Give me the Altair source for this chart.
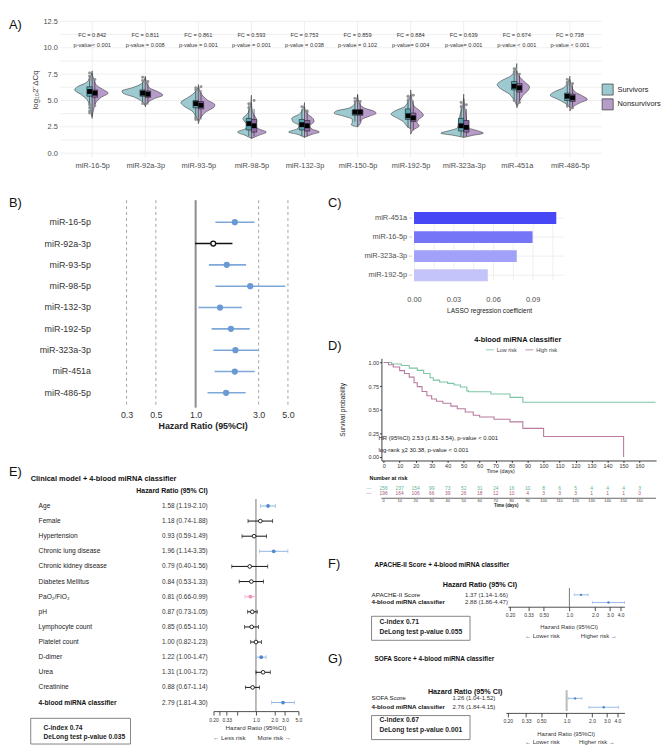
import altair as alt
import pandas as pd

FONT = "Liberation Sans"
S_FILL, N_FILL = "#9DCAD1", "#B79BC9"
S_BOX, N_BOX = "#56A3B2", "#8C69A5"
GREEN, PINK = "#7CC6A4", "#B97BA0"
B_LINE, B_PT = "#7FA8DA", "#6A99D3"
E_LINE, E_PT = "#8DB3E2", "#4F87CD"

# ---------------- Panel A data ----------------
A_MIRNAS = ["miR-16-5p", "miR-92a-3p", "miR-93-5p", "miR-98-5p", "miR-132-3p",
            "miR-150-5p", "miR-192-5p", "miR-323a-3p", "miR-451a", "miR-486-5p"]
A_FC = ["0.842", "0.811", "0.861", "0.593", "0.753", "0.859", "0.884", "0.639", "0.674", "0.738"]
A_PVAL = ["p-value< 0.001", "p-value = 0.008", "p-value = 0.001", "p-value = 0.001",
          "p-value = 0.038", "p-value = 0.102", "p-value= 0.004", "p-value= 0.001",
          "p-value < 0.001", "p-value < 0.001"]
A_GROUPS = ["Survivors", "Nonsurvivors"]
# violin outlines: (value, half-width in category units)
A_SURV_SHAPE = [
    [(3.3, 0.0), (3.8, 0.02), (4.5, 0.05), (5.1, 0.10), (5.6, 0.22), (6.0, 0.33), (6.3, 0.28), (6.7, 0.11), (7.2, 0.04), (7.8, 0.0)],
    [(4.5, 0.0), (4.9, 0.06), (5.3, 0.20), (5.7, 0.42), (5.9, 0.44), (6.2, 0.25), (6.6, 0.07), (7.2, 0.0)],
    [(3.0, 0.0), (3.5, 0.05), (4.0, 0.12), (4.5, 0.28), (4.8, 0.33), (5.2, 0.22), (5.7, 0.08), (6.3, 0.0)],
    [(1.4, 0.0), (1.7, 0.12), (2.0, 0.26), (2.3, 0.12), (2.6, 0.06), (3.0, 0.13), (3.3, 0.16), (3.7, 0.08), (4.3, 0.03), (5.5, 0.0)],
    [(1.5, 0.0), (1.8, 0.14), (2.0, 0.30), (2.3, 0.14), (2.6, 0.10), (3.0, 0.22), (3.3, 0.24), (3.7, 0.10), (4.2, 0.03), (4.8, 0.0)],
    [(2.5, 0.0), (2.7, 0.12), (2.9, 0.10), (3.2, 0.10), (3.5, 0.25), (3.8, 0.44), (4.0, 0.40), (4.3, 0.15), (4.8, 0.04), (5.6, 0.0)],
    [(2.3, 0.0), (2.6, 0.08), (3.0, 0.14), (3.4, 0.28), (3.7, 0.37), (4.0, 0.30), (4.4, 0.12), (5.0, 0.04), (5.6, 0.0)],
    [(1.5, 0.0), (1.7, 0.20), (1.9, 0.43), (2.1, 0.30), (2.4, 0.12), (2.8, 0.10), (3.2, 0.09), (3.8, 0.06), (4.5, 0.02), (5.6, 0.0)],
    [(4.5, 0.0), (5.0, 0.05), (5.6, 0.14), (6.1, 0.30), (6.5, 0.37), (6.9, 0.28), (7.3, 0.12), (7.8, 0.04), (8.5, 0.0)],
    [(4.3, 0.0), (4.7, 0.08), (5.1, 0.22), (5.5, 0.37), (5.8, 0.30), (6.2, 0.12), (6.7, 0.04), (7.3, 0.0)],
]
A_NONS_SHAPE = [
    [(3.5, 0.0), (4.2, 0.03), (4.8, 0.07), (5.3, 0.17), (5.7, 0.30), (6.0, 0.22), (6.4, 0.09), (7.0, 0.03), (7.6, 0.0)],
    [(4.4, 0.0), (4.9, 0.07), (5.2, 0.18), (5.5, 0.33), (5.8, 0.25), (6.2, 0.08), (6.8, 0.02), (7.3, 0.0)],
    [(2.8, 0.0), (3.4, 0.05), (3.9, 0.14), (4.4, 0.30), (4.6, 0.31), (5.0, 0.18), (5.6, 0.06), (6.5, 0.0)],
    [(1.4, 0.0), (1.7, 0.14), (2.0, 0.28), (2.3, 0.14), (2.6, 0.06), (3.0, 0.10), (3.3, 0.09), (3.8, 0.03), (4.8, 0.0)],
    [(1.5, 0.0), (1.8, 0.15), (2.0, 0.28), (2.3, 0.14), (2.6, 0.10), (3.0, 0.18), (3.3, 0.16), (3.7, 0.06), (4.4, 0.0)],
    [(2.5, 0.0), (2.8, 0.05), (3.2, 0.08), (3.5, 0.22), (3.8, 0.35), (4.0, 0.30), (4.3, 0.12), (4.8, 0.03), (5.5, 0.0)],
    [(1.8, 0.0), (2.2, 0.05), (2.6, 0.16), (2.9, 0.12), (3.2, 0.15), (3.6, 0.24), (4.0, 0.18), (4.5, 0.06), (5.2, 0.02), (6.0, 0.0)],
    [(1.5, 0.0), (1.7, 0.18), (1.9, 0.37), (2.1, 0.28), (2.4, 0.10), (2.8, 0.07), (3.3, 0.05), (4.0, 0.03), (5.2, 0.0)],
    [(4.3, 0.0), (4.9, 0.05), (5.5, 0.12), (6.0, 0.22), (6.3, 0.24), (6.7, 0.16), (7.2, 0.06), (7.8, 0.0)],
    [(4.0, 0.0), (4.4, 0.06), (4.8, 0.20), (5.1, 0.33), (5.4, 0.25), (5.8, 0.10), (6.4, 0.03), (7.0, 0.0)],
]
A_SURV_Q1 = [5.4, 5.4, 4.3, 2.2, 2.2, 3.6, 3.2, 2.1, 6.0, 5.0]
A_SURV_Q3 = [6.3, 6.0, 5.0, 3.3, 3.2, 4.1, 4.2, 3.3, 6.8, 5.7]
A_SURV_WLO = [4.6, 4.7, 3.3, 1.6, 1.6, 3.0, 2.4, 1.6, 5.0, 4.3]
A_SURV_WHI = [7.3, 6.8, 6.0, 4.7, 4.2, 5.0, 5.4, 4.6, 7.9, 6.8]
A_NONS_Q1 = [5.3, 5.3, 4.2, 2.0, 2.1, 3.6, 3.0, 2.0, 5.8, 4.9]
A_NONS_Q3 = [6.0, 5.9, 4.9, 3.2, 3.1, 4.1, 3.8, 3.1, 6.6, 5.6]
A_NONS_WLO = [4.5, 4.6, 3.2, 1.6, 1.6, 3.0, 2.2, 1.6, 4.8, 4.2]
A_NONS_WHI = [6.9, 6.7, 6.0, 4.2, 3.9, 4.8, 5.0, 4.2, 7.6, 6.6]
A_SURV_MEAN = [5.85, 5.7, 4.7, 2.8, 2.7, 3.9, 3.55, 2.6, 6.35, 5.4]
A_NONS_MEAN = [5.7, 5.6, 4.55, 2.6, 2.6, 3.9, 3.35, 2.45, 6.2, 5.25]
A_SURV_OUT = [[7.6, 7.3, 7.0, 4.6, 4.3, 4.0, 3.8], [7.2, 6.9, 4.7], [6.2, 6.0, 3.4, 3.2], [4.7, 4.3], [4.4],
              [5.2, 4.9], [5.4, 5.0], [4.8, 4.4], [8.0, 7.7, 7.5, 5.0], [7.0, 6.7, 6.5, 4.5]]
A_NONS_OUT = [[7.0, 4.5], [6.8], [6.3], [5.0], [4.0, 3.9], [4.9], [5.5], [4.6], [7.5, 4.8], [6.6, 4.3]]
A_Y_TICKS = [0.0, 1.25, 2.5, 3.75, 5.0, 6.25, 7.5, 8.75, 10.0, 11.25, 12.5]

# ---------------- Panel B data ----------------
B_NAMES = ["miR-16-5p", "miR-92a-3p", "miR-93-5p", "miR-98-5p", "miR-132-3p",
           "miR-192-5p", "miR-323a-3p", "miR-451a", "miR-486-5p"]
B_HR = [1.98, 1.36, 1.72, 2.59, 1.53, 1.85, 2.00, 1.98, 1.70]
B_LO = [1.41, 0.99, 1.26, 1.41, 1.05, 1.32, 1.36, 1.39, 1.23]
B_HI = [2.79, 1.90, 2.41, 4.78, 2.24, 2.57, 2.99, 2.80, 2.39]
B_SIG = [1, 0, 1, 1, 1, 1, 1, 1, 1]
B_REF = [0.3, 0.5, 3.0, 5.0]
B_TICKS = [0.3, 0.5, 1.0, 3.0, 5.0]

# ---------------- Panel C data ----------------
C_NAMES = ["miR-451a", "miR-16-5p", "miR-323a-3p", "miR-192-5p"]
C_COEF = [0.108, 0.090, 0.078, 0.056]
C_COLORS = ["#4747F5", "#7575F7", "#A1A1F9", "#C4C4FB"]
C_GRID = [0.0, 0.015, 0.03, 0.045, 0.06, 0.075, 0.09, 0.105]

# ---------------- Panel D data ----------------
LOW_T = [0, 5, 11, 16, 21, 25, 29, 31, 35, 40, 44, 48, 52, 53, 67, 79, 87, 170]
LOW_S = [1.0, 0.985, 0.969, 0.941, 0.917, 0.883, 0.838, 0.814, 0.793, 0.779, 0.762, 0.741, 0.70, 0.69, 0.666, 0.631, 0.579, 0.579]
HIGH_T = [0, 3, 6, 10, 13, 16, 19, 21, 24, 27, 30, 33, 37, 42, 46, 51, 56, 60, 69, 79, 87, 100, 150]
HIGH_S = [1.0, 0.976, 0.952, 0.914, 0.883, 0.845, 0.786, 0.745, 0.693, 0.648, 0.614, 0.59, 0.569, 0.538,
          0.51, 0.476, 0.441, 0.424, 0.40, 0.372, 0.303, 0.217, 0.0]
RISK_DAYS = [0, 10, 20, 30, 40, 50, 60, 70, 80, 90, 100, 110, 120, 130, 140, 150, 160]
RISK_LOW = [256, 237, 154, 99, 73, 52, 31, 24, 16, 10, 8, 6, 5, 4, 4, 4, 3]
RISK_HIGH = [196, 164, 106, 66, 39, 26, 18, 12, 10, 4, 3, 3, 3, 1, 1, 1, 0]
D_HR_TEXT = "HR (95%CI) 2.53 (1.81-3.54), p-value < 0.001"
D_LR_TEXT = "log-rank χ2 30.38, p-value < 0.001"

# ---------------- Panel E/F/G data ----------------
E_LABELS = ["Age", "Female", "Hypertension", "Chronic lung disease", "Chronic kidney disease",
            "Diabetes Mellitus", "PaO₂/FiO₂", "pH", "Lymphocyte count", "Platelet count",
            "D-dimer", "Urea", "Creatinine", "4-blood miRNA classifier"]
E_HR = [1.58, 1.18, 0.93, 1.96, 0.79, 0.84, 0.81, 0.87, 0.85, 1.00, 1.22, 1.31, 0.88, 2.79]
E_LO = [1.19, 0.74, 0.59, 1.14, 0.40, 0.53, 0.66, 0.73, 0.65, 0.82, 1.00, 1.00, 0.67, 1.81]
E_HI = [2.10, 1.88, 1.49, 3.35, 1.56, 1.33, 0.99, 1.05, 1.10, 1.23, 1.47, 1.72, 1.14, 4.30]
E_KIND = [1, 0, 0, 1, 0, 0, 2, 0, 0, 0, 1, 0, 0, 1]
F_LABELS = ["APACHE-II Score", "4-blood miRNA classifier"]
F_HR, F_LO, F_HI = [1.37, 2.88], [1.14, 1.86], [1.66, 4.47]
G_LABELS = ["SOFA Score", "4-blood miRNA classifier"]
G_HR, G_LO, G_HI = [1.26, 2.76], [1.04, 1.84], [1.52, 4.15]

KIND_LINE = {0: "#111111", 1: E_LINE, 2: "#F4A9C9"}
KIND_PT = {0: "#111111", 1: E_PT, 2: "#EE8FB7"}


def txt(s, x, y, size, weight="normal", align="left", color="#222222"):
    return alt.Chart(pd.DataFrame({"t": [s]})).mark_text(
        align=align, baseline="middle", fontSize=size, fontWeight=weight, color=color
    ).encode(x=alt.value(x), y=alt.value(y), text="t:N")


def frame(x1, x2, y1, y2, color="#666666", opacity=1.0):
    return alt.Chart(pd.DataFrame({"a": [0]})).mark_rect(
        fill="transparent", stroke=color, strokeWidth=0.8, opacity=opacity
    ).encode(x=alt.value(x1), x2=alt.value(x2), y=alt.value(y1), y2=alt.value(y2))


# =============== Panel A ===============
A_H = 137.7
xA = alt.Scale(domain=[0.4, 10.6], range=[0, 548], nice=False, zero=False)
yA = alt.Scale(domain=[-0.4, 12.5], range=[A_H, 0], nice=False, zero=False)
lab_arr = "[" + ",".join("'%s'" % m for m in A_MIRNAS) + "]"
axAx = alt.Axis(values=list(range(1, 11)), labelExpr=lab_arr + "[datum.value - 1]", title=None,
                ticks=False, domain=False, grid=False,
                labelFontSize=7.5, labelColor="#4D4D4D", labelPadding=10, labelFlush=False, labelOverlap=False)
axAy = alt.Axis(values=A_Y_TICKS, labelExpr="datum.value % 2.5 == 0 ? format(datum.value, '.1f') : ''",
                title="log₁₀2⁻ΔCq", titleFontSize=8, titleFontWeight="normal", titleColor="#333333",
                titlePadding=4, ticks=False, domain=False, grid=False,
                labelFontSize=7.5, labelColor="#4D4D4D", labelPadding=3)


def XA(f):
    return alt.X(f, type="quantitative", scale=xA, axis=axAx)


def YA(f):
    return alt.Y(f, type="quantitative", scale=yA, axis=axAy)


vrows = []
for i, shp in enumerate(A_SURV_SHAPE):
    for y, w in shp:
        vrows.append({"vid": "s%d" % i, "group": A_GROUPS[0], "val": y, "xe": i + 1 - w, "xc": i + 1})
for i, shp in enumerate(A_NONS_SHAPE):
    for y, w in shp:
        vrows.append({"vid": "n%d" % i, "group": A_GROUPS[1], "val": y, "xe": i + 1 + w, "xc": i + 1})
vdf = pd.DataFrame(vrows)

sbox = pd.DataFrame({"bx1": [i + 1 - 0.1 for i in range(10)], "bx2": [i + 1 for i in range(10)],
                     "bxc": [i + 1 - 0.05 for i in range(10)], "q1": A_SURV_Q1, "q3": A_SURV_Q3,
                     "wlo": A_SURV_WLO, "whi": A_SURV_WHI, "m": A_SURV_MEAN})
nbox = pd.DataFrame({"bx1": [i + 1 for i in range(10)], "bx2": [i + 1 + 0.1 for i in range(10)],
                     "bxc": [i + 1 + 0.05 for i in range(10)], "q1": A_NONS_Q1, "q3": A_NONS_Q3,
                     "wlo": A_NONS_WLO, "whi": A_NONS_WHI, "m": A_NONS_MEAN})
orows = []
for i, vals in enumerate(A_SURV_OUT):
    for v in vals:
        orows.append({"x": i + 1 - 0.05, "y": v})
for i, vals in enumerate(A_NONS_OUT):
    for v in vals:
        orows.append({"x": i + 1 + 0.05, "y": v})
odf = pd.DataFrame(orows)
adf = pd.DataFrame({"x": list(range(1, 11)), "fc": ["FC = " + f for f in A_FC], "pv": A_PVAL})

a_layers = [
    # invisible anchor at the figure's top-left corner
    frame(-52, -51, -8.3, -7.3, opacity=0),
    alt.Chart(pd.DataFrame({"g": A_Y_TICKS})).mark_rule(color="#EBEBEB", strokeWidth=0.8).encode(
        y=YA("g"), x=alt.value(0), x2=alt.value(548)),
    alt.Chart(pd.DataFrame({"c": list(range(1, 11))})).mark_rule(color="#EBEBEB", strokeWidth=0.8).encode(
        x=XA("c"), y=alt.value(0), y2=alt.value(A_H)),
    alt.Chart(vdf).mark_area(orient="horizontal", interpolate="monotone", stroke="#3D3D3D",
                             strokeWidth=0.6, opacity=1).encode(
        x=XA("xe"), x2="xc:Q", y=YA("val"), detail="vid:N",
        fill=alt.Fill("group:N", scale=alt.Scale(domain=A_GROUPS, range=[S_FILL, N_FILL]),
                      legend=alt.Legend(title=None, orient="none", legendX=548, legendY=63,
                                        symbolType="square", symbolSize=125, symbolStrokeColor="#333333",
                                        symbolStrokeWidth=0.7, symbolOpacity=1, labelFontSize=7.5,
                                        labelColor="#222222", rowPadding=1, labelOffset=4))),
]
for bdf_, col in ((sbox, S_BOX), (nbox, N_BOX)):
    a_layers.append(alt.Chart(bdf_).mark_rule(color="#222222", strokeWidth=0.6).encode(
        x=XA("bxc"), y=YA("wlo"), y2="whi:Q"))
    a_layers.append(alt.Chart(bdf_).mark_rect(fill=col, stroke="#222222", strokeWidth=0.6).encode(
        x=XA("bx1"), x2="bx2:Q", y=YA("q1"), y2="q3:Q"))
a_layers += [
    alt.Chart(odf).mark_circle(size=9, color="#8A8A8A", opacity=0.9).encode(x=XA("x"), y=YA("y")),
    alt.Chart(sbox).mark_square(size=24, color="#000000", opacity=1).encode(x=XA("bxc"), y=YA("m")),
    alt.Chart(nbox).mark_square(size=24, color="#000000", opacity=1).encode(x=XA("bxc"), y=YA("m")),
    alt.Chart(adf).mark_text(fontSize=5.7, color="#333333").encode(x=XA("x"), y=alt.value(14.2), text="fc:N"),
    alt.Chart(adf).mark_text(fontSize=5.7, color="#333333").encode(x=XA("x"), y=alt.value(24.0), text="pv:N"),
    txt("A)", -52, 3.7, 13, color="#111111"),
]
A = alt.layer(*a_layers).properties(width=241, height=A_H - 6)

# =============== Panel B ===============
xB = alt.Scale(type="log", domain=[0.22, 5.8], range=[49, 239], nice=False)
yB = alt.Scale(domain=[0, 8], range=[22.3, 195], nice=False, zero=False)
axB = alt.Axis(values=B_TICKS, format=".1f", title="Hazard Ratio (95%CI)", grid=False, domain=False,
               ticks=False, labelFontSize=9, labelColor="#333333", labelPadding=1, labelFlush=False,
               labelOverlap=False, titleFontSize=9, titleFontWeight="bold", titleColor="#222222",
               titlePadding=2, offset=118)


def XB(f):
    return alt.X(f, type="quantitative", scale=xB, axis=axB)


def YB(f):
    return alt.Y(f, type="quantitative", scale=yB, axis=None)


bdf = pd.DataFrame({"name": B_NAMES, "hr": B_HR, "lo": B_LO, "hi": B_HI, "sig": B_SIG, "row": list(range(9))})
bdf["lc"] = [B_LINE if s else "#111111" for s in B_SIG]
B = alt.layer(
    alt.Chart(pd.DataFrame({"v": B_REF})).mark_rule(strokeDash=[3, 3], color="#9A9A9A", strokeWidth=0.9).encode(
        x=XB("v"), y=alt.value(0), y2=alt.value(210)),
    alt.Chart(pd.DataFrame({"v": [1.0]})).mark_rule(color="#8C8C8C", strokeWidth=2).encode(
        x=XB("v"), y=alt.value(0), y2=alt.value(210)),
    alt.Chart(bdf).mark_rule(strokeWidth=1.6).encode(x=XB("lo"), x2="hi:Q", y=YB("row"),
                                                      color=alt.Color("lc:N", scale=None)),
    alt.Chart(bdf).transform_filter("datum.sig == 1").mark_circle(size=40, opacity=1, color=B_PT).encode(
        x=XB("hr"), y=YB("row")),
    alt.Chart(bdf).transform_filter("datum.sig == 0").mark_point(
        shape="circle", size=24, filled=True, fill="white", stroke="#111111", strokeWidth=1.4, opacity=1).encode(
        x=XB("hr"), y=YB("row")),
    alt.Chart(bdf).mark_text(align="right", baseline="middle", fontSize=9, color="#333333").encode(
        x=alt.value(31), y=YB("row"), text="name:N"),
    txt("B)", -52, 3, 13, color="#111111"),
).properties(width=239, height=94)

# =============== Panel C ===============
xC = alt.Scale(domain=[0, 0.114], range=[33, 185], nice=False, zero=False)
yC = alt.Scale(domain=[0, 3], range=[13, 81], nice=False, zero=False)
axC = alt.Axis(values=C_GRID, labelExpr="round(datum.value * 1000) % 30 == 0 ? format(datum.value, '.2f') : ''",
               grid=True, gridColor="#EBEBEB", gridWidth=0.8, ticks=False, domain=False,
               title="LASSO regression coefficient", titleFontSize=6.6, titleFontWeight="normal",
               titleColor="#222222", titlePadding=4, labelFontSize=7.5, labelColor="#4D4D4D",
               labelPadding=3, labelFlush=False, labelOverlap=False)


def XC(f):
    return alt.X(f, type="quantitative", scale=xC, axis=axC)


def YC(f):
    return alt.Y(f, type="quantitative", scale=yC, axis=None)


cdf = pd.DataFrame({"name": C_NAMES, "coef": C_COEF, "col": C_COLORS, "row": list(range(4)), "base": [0.0] * 4})
C = alt.layer(
    alt.Chart(cdf).mark_rule(color="#EBEBEB", strokeWidth=0.8).encode(
        y=YC("row"), x=alt.value(33), x2=alt.value(185)),
    alt.Chart(cdf).mark_bar(orient="horizontal", size=12).encode(
        x=XC("coef"), x2="base:Q", y=YC("row"), color=alt.Color("col:N", scale=None)),
    alt.Chart(cdf).mark_rule(color="#AAAAAA", strokeWidth=0.6).encode(
        y=YC("row"), x=alt.value(28), x2=alt.value(31)),
    alt.Chart(cdf).mark_text(align="right", baseline="middle", fontSize=7.5, color="#4D4D4D").encode(
        x=alt.value(26), y=YC("row"), text="name:N"),
    txt("C)", -54, 3, 13, color="#111111"),
).properties(width=185, height=94)

# =============== Panel D ===============
xD = alt.Scale(domain=[-1.4, 170.3], nice=False, zero=False)
yD = alt.Scale(domain=[-0.037, 1.045], range=[120.5, 17], nice=False, zero=False)
axDx = alt.Axis(values=RISK_DAYS, title=None, grid=False, domainColor="#111111", domainWidth=0.8,
                tickColor="#111111", tickSize=2, tickWidth=0.8, labelFontSize=5.5, labelColor="#333333",
                labelPadding=1, labelFlush=False, labelOverlap=False)
axDy = alt.Axis(values=[0, 0.25, 0.5, 0.75, 1.0], format=".2f", title="Survival probability", grid=False,
                domainColor="#111111", domainWidth=0.8, tickColor="#111111", tickSize=2, tickWidth=0.8,
                labelFontSize=5.5, labelColor="#333333", labelPadding=1, titleFontSize=6.5,
                titleFontWeight="normal", titleColor="#222222", titlePadding=23)


def XD(f):
    return alt.X(f, type="quantitative", scale=xD, axis=axDx)


def YD(f):
    return alt.Y(f, type="quantitative", scale=yD, axis=axDy)


km = pd.concat([
    pd.DataFrame({"t": LOW_T, "s": LOW_S, "grp": "Low risk"}),
    pd.DataFrame({"t": HIGH_T, "s": HIGH_S, "grp": "High risk"}),
])
risk = pd.DataFrame({"day": RISK_DAYS, "low": [str(v) for v in RISK_LOW], "high": [str(v) for v in RISK_HIGH],
                     "lab": [str(v) for v in RISK_DAYS]})
D = alt.layer(
    alt.Chart(km).mark_line(interpolate="step-after", strokeWidth=1.1).encode(
        x=XD("t"), y=YD("s"),
        color=alt.Color("grp:N", scale=alt.Scale(domain=["Low risk", "High risk"], range=[GREEN, PINK]),
                        legend=alt.Legend(title=None, orient="none", direction="horizontal", legendX=429.7,
                                          legendY=327.2, symbolType="stroke", symbolSize=64,
                                          symbolStrokeWidth=1.2, labelFontSize=5.5, labelColor="#444444",
                                          columnPadding=5, labelOffset=2, padding=0))),
    txt("4-blood miRNA classifier", 138, -1, 7.5, weight="bold", align="center", color="#111111"),
    txt(D_HR_TEXT, -3, 98, 6, color="#222222"),
    txt(D_LR_TEXT, -3, 110, 6, color="#222222"),
    txt("Time (days)", 120.7, 131, 5.5, align="center", color="#222222"),
    txt("Number at risk", -12, 138.7, 5.5, weight="bold", color="#111111"),
    txt("—", -15, 148.7, 5, color=GREEN),
    txt("—", -15, 153, 5, color=PINK),
    alt.Chart(risk).mark_text(fontSize=5, color="#5FB68E").encode(x=XD("day"), y=alt.value(148.7), text="low:N"),
    alt.Chart(risk).mark_text(fontSize=5, color="#A8608A").encode(x=XD("day"), y=alt.value(153), text="high:N"),
    alt.Chart(pd.DataFrame({"a": [0]})).mark_rule(color="#222222", strokeWidth=0.7).encode(
        x=alt.value(0), x2=alt.value(278), y=alt.value(158.7)),
    alt.Chart(risk).mark_text(fontSize=4, color="#333333").encode(x=XD("day"), y=alt.value(162), text="lab:N"),
    txt("Time (days)", 126.3, 166.3, 4.5, weight="bold", align="center", color="#222222"),
    txt("D)", -54, 5, 13, color="#111111"),
).properties(width=278, height=120.5)


# =============== forest helpers (E, F, G) ===============
def forest(labels, hr, lo, hi, kind, xs, ys, ax, cap, pt, lw, lab_x, hr_x, fs):
    df = pd.DataFrame({"label": labels, "hr": hr, "lo": lo, "hi": hi, "kind": kind,
                       "row": list(range(len(labels)))})
    df["lc"] = [KIND_LINE[k] for k in kind]
    df["pc"] = [KIND_PT[k] for k in kind]
    df["txt"] = ["%.2f (%.2f-%.2f)" % (a, b, c) for a, b, c in zip(hr, lo, hi)]
    last = len(labels) - 1
    df["last"] = [1 if i == last else 0 for i in range(len(labels))]

    def X(f):
        return alt.X(f, type="quantitative", scale=xs, axis=ax)

    def Y(f):
        return alt.Y(f, type="quantitative", scale=ys, axis=None)

    base = alt.Chart(df)
    layers = [
        base.mark_rule(strokeWidth=lw).encode(x=X("lo"), x2="hi:Q", y=Y("row"), color=alt.Color("lc:N", scale=None)),
        base.mark_tick(orient="vertical", size=cap, thickness=0.9).encode(
            x=X("lo"), y=Y("row"), color=alt.Color("lc:N", scale=None)),
        base.mark_tick(orient="vertical", size=cap, thickness=0.9).encode(
            x=X("hi"), y=Y("row"), color=alt.Color("lc:N", scale=None)),
        base.transform_filter("datum.kind != 0").mark_circle(size=pt, opacity=1).encode(
            x=X("hr"), y=Y("row"), color=alt.Color("pc:N", scale=None)),
        base.transform_filter("datum.kind == 0").mark_point(
            shape="circle", size=pt, filled=True, fill="white", stroke="#111111", strokeWidth=0.9, opacity=1).encode(
            x=X("hr"), y=Y("row")),
        base.transform_filter("datum.last == 0").mark_text(align="left", baseline="middle", fontSize=fs,
                                                           color="#222222").encode(
            x=alt.value(lab_x), y=Y("row"), text="label:N"),
        base.transform_filter("datum.last == 1").mark_text(align="left", baseline="middle", fontSize=fs,
                                                           fontWeight="bold", color="#111111").encode(
            x=alt.value(lab_x), y=Y("row"), text="label:N"),
        base.mark_text(align="left", baseline="middle", fontSize=fs - 0.2, color="#333333").encode(
            x=alt.value(hr_x), y=Y("row"), text="txt:N"),
    ]
    return X, layers


def log_axis(values, labexpr, offset):
    return alt.Axis(values=values, labelExpr=labexpr, title=None, grid=False, domainColor="#222222",
                    domainWidth=0.8, tickColor="#222222", tickSize=4, tickWidth=0.8, labelFontSize=5,
                    labelColor="#333333", labelPadding=2, labelFlush=False, labelOverlap=False, offset=offset)


# =============== Panel E ===============
xE = alt.Scale(type="log", domain=[0.2, 5], range=[155, 241], nice=False)
yE = alt.Scale(domain=[0, 13], range=[-3.5, 195.5], nice=False, zero=False)
axE = log_axis([0.2, 0.25, 0.33, 0.5, 1, 2, 3, 5],
               "(datum.value == 0.25 || datum.value == 0.5) ? '' : (datum.value < 1 ? format(datum.value, '.2f') : format(datum.value, '.1f'))",
               105.7)
XE, e_layers = forest(E_LABELS, E_HR, E_LO, E_HI, E_KIND, xE, yE, axE, 4, 14, 1.0, -22, 103, 6.7)
E = alt.layer(
    alt.Chart(pd.DataFrame({"v": [1.0]})).mark_rule(color="#555555", strokeWidth=0.8).encode(
        x=XE("v"), y=alt.value(-10.5), y2=alt.value(204.2)),
    *e_layers,
    txt("E)", -52, -37.5, 13, color="#111111"),
    txt("Clinical model + 4-blood miRNA classifier", -30, -30.5, 7.5, weight="bold", color="#111111"),
    txt("Hazard Ratio (95% CI)", 113, -18.5, 7, weight="bold", align="center", color="#111111"),
    txt("Hazard Ratio (95%CI)", 198, 221.8, 6.3, align="center", color="#333333"),
    txt("← Less risk", 171, 231.8, 6.3, align="center", color="#333333"),
    txt("More risk →", 216.5, 231.8, 6.3, align="center", color="#333333"),
    frame(-30, 71, 211.5, 237.5),
    txt("C-index 0.74", -17, 221.8, 6.7, weight="bold", color="#222222"),
    txt("DeLong test p-value 0.035", -17, 230.8, 6.7, weight="bold", color="#222222"),
).properties(width=241, height=98.5)

# =============== Panel F ===============
FG_EXPR = "datum.value < 1 ? format(datum.value, '.2f') : format(datum.value, '.1f')"
FG_TICKS = [0.2, 0.33, 0.5, 1, 2, 3, 4]
xF = alt.Scale(type="log", domain=[0.189, 4.44], range=[128, 246], nice=False)
yF = alt.Scale(domain=[0, 1], range=[86.5, 94.2], nice=False, zero=False)
axF = log_axis(FG_TICKS, FG_EXPR, 0)
XF, f_layers = forest(F_LABELS, F_HR, F_LO, F_HI, [1, 1], xF, yF, axF, 3, 6, 0.9, -10, 84.7, 6.3)
F = alt.layer(
    alt.Chart(pd.DataFrame({"v": [1.0]})).mark_rule(color="#555555", strokeWidth=0.8).encode(
        x=XF("v"), y=alt.value(79.5), y2=alt.value(98.5)),
    *f_layers,
    txt("F)", -54, 55.5, 13, color="#111111"),
    txt("APACHE-II Score + 4-blood miRNA classifier", -7, 56.5, 6.5, weight="bold", color="#111111"),
    txt("Hazard Ratio (95% CI)", 99.7, 76.5, 7.3, weight="bold", align="center", color="#111111"),
    txt("Hazard Ratio (95%CI)", 190, 119.5, 6, align="center", color="#333333"),
    txt("← Lower risk", 163, 128.5, 6, align="center", color="#333333"),
    txt("Higher risk →", 220, 128.5, 6, align="center", color="#333333"),
    frame(-10, 89.7, 108.2, 132.5),
    txt("C-index 0.71", -2, 114.2, 6.8, weight="bold", color="#222222"),
    txt("DeLong test p-value 0.055", -2, 124.2, 6.8, weight="bold", color="#222222"),
).properties(width=246, height=98.5)

# =============== Panel G ===============
xG = alt.Scale(type="log", domain=[0.19, 4.86], range=[126, 246], nice=False)
yG = alt.Scale(domain=[0, 1], range=[43.3, 52.3], nice=False, zero=False)
axG = log_axis(FG_TICKS, FG_EXPR, 0)
XG, g_layers = forest(G_LABELS, G_HR, G_LO, G_HI, [1, 1], xG, yG, axG, 3, 6, 0.9, -10, 72, 6.3)
G = alt.layer(
    alt.Chart(pd.DataFrame({"v": [1.0]})).mark_rule(color="#BBBBBB", strokeWidth=2).encode(
        x=XG("v"), y=alt.value(35), y2=alt.value(56)),
    *g_layers,
    txt("G)", -54, 3, 13, color="#111111"),
    txt("SOFA Score + 4-blood miRNA classifier", -7, 3, 6.5, weight="bold", color="#111111"),
    txt("Hazard Ratio (95% CI)", 84.7, 36.7, 7.3, weight="bold", align="center", color="#111111"),
    txt("Hazard Ratio (95%CI)", 187, 79, 6, align="center", color="#333333"),
    txt("← Lower risk", 163, 87.3, 6, align="center", color="#333333"),
    txt("Higher risk →", 218, 87.3, 6, align="center", color="#333333"),
    frame(-10, 89.7, 60.7, 85),
    txt("C-index 0.67", -2, 65.7, 6.8, weight="bold", color="#222222"),
    txt("DeLong test p-value 0.001", -2, 75.7, 6.8, weight="bold", color="#222222"),
).properties(width=246, height=58)


def dummy():
    return alt.Chart(pd.DataFrame({"a": [0]})).mark_rect(opacity=0).encode(
        x=alt.value(0), x2=alt.value(1), y=alt.value(0), y2=alt.value(1)).properties(width=1, height=1)


chart = alt.concat(A, dummy(), B, C, dummy(), D, E, F, dummy(), G, columns=2,
                   spacing={"row": 49, "column": 84}, bounds="flush", padding=0)
chart = chart.configure(font=FONT).configure_view(stroke="transparent")
chart.save("out.html", embed_options={"renderer": "svg", "actions": False})
